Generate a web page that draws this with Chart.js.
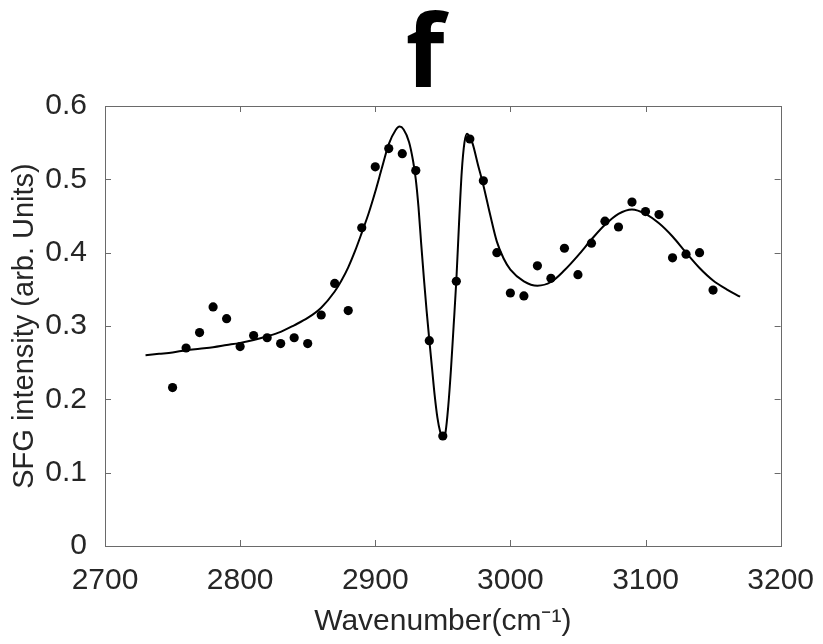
<!DOCTYPE html>
<html>
<head>
<meta charset="utf-8">
<script src="https://cdn.jsdelivr.net/npm/chart.js@4/dist/chart.umd.min.js"></script>
<style>
  html, body { margin: 0; padding: 0; background: #fff; }
  #wrap { width: 823px; height: 644px; }
</style>
</head>
<body>
<div id="wrap"><canvas id="chart-f"></canvas></div>
<script>
// measured SFG points
var wavenumber = [2750, 2760, 2770, 2780, 2790, 2800, 2810, 2820, 2830, 2840, 2850,
  2860, 2870, 2880, 2890, 2900, 2910, 2920, 2930, 2940, 2950, 2960,
  2970, 2980, 2990, 3000, 3010, 3020, 3030, 3040, 3050, 3060, 3070,
  3080, 3090, 3100, 3110, 3120, 3130, 3140, 3150];
var intensity = [0.216, 0.270, 0.291, 0.326, 0.310, 0.272, 0.287, 0.284, 0.276, 0.284, 0.276,
  0.315, 0.358, 0.321, 0.434, 0.517, 0.542, 0.535, 0.512, 0.280, 0.150, 0.361,
  0.555, 0.498, 0.400, 0.345, 0.341, 0.382, 0.365, 0.406, 0.370, 0.413, 0.443,
  0.435, 0.469, 0.456, 0.452, 0.393, 0.398, 0.400, 0.349];

// fitted curve
var fitX = [2730, 2740, 2750, 2760, 2770, 2780, 2790, 2800, 2810, 2820, 2830, 2840, 2850,
  2860, 2870, 2875, 2880, 2885, 2890, 2895, 2900, 2905, 2910, 2915, 2918, 2921,
  2925, 2928, 2930, 2932, 2934, 2936, 2938, 2940, 2942, 2944, 2946, 2948, 2950,
  2952, 2954, 2956, 2958, 2960, 2962, 2964, 2966, 2968, 2970, 2972, 2976, 2980,
  2985, 2990, 2995, 3000, 3010, 3020, 3030, 3040, 3050, 3060, 3070, 3080, 3090,
  3100, 3110, 3120, 3130, 3140, 3150, 3160, 3170];
var fitY = [0.260, 0.262, 0.264, 0.267, 0.269, 0.271, 0.274, 0.277, 0.281, 0.286, 0.292, 0.301, 0.311,
  0.325, 0.347, 0.362, 0.380, 0.402, 0.427, 0.453, 0.483, 0.516, 0.548, 0.567, 0.572, 0.568,
  0.551, 0.525, 0.500, 0.462, 0.412, 0.365, 0.321, 0.281, 0.243, 0.205, 0.175, 0.156, 0.147,
  0.155, 0.190, 0.240, 0.300, 0.362, 0.440, 0.510, 0.550, 0.562, 0.557, 0.549, 0.520, 0.492,
  0.452, 0.415, 0.392, 0.377, 0.361, 0.355, 0.360, 0.376, 0.396, 0.418, 0.438, 0.453, 0.459,
  0.453, 0.440, 0.422, 0.400, 0.379, 0.362, 0.350, 0.340];

// axis range and step: [min, max, step]
var xTicks = [2700, 3200, 100];
var yTicks = [0, 0.6, 0.1];

function pairs(xs, ys) {
  return xs.map(function (x, i) { return { x: x, y: ys[i] }; });
}

// MATLAB style box with inward ticks
var boxFrame = {
  id: 'boxFrame',
  afterDraw: function (chart) {
    var ctx = chart.ctx, a = chart.chartArea;
    var sx = chart.scales.x, sy = chart.scales.y;
    ctx.save();
    ctx.strokeStyle = '#6a6a6a';
    ctx.lineWidth = 1;
    ctx.strokeRect(Math.round(a.left) + 0.5, Math.round(a.top) + 0.5,
      Math.round(a.right - a.left), Math.round(a.bottom - a.top));
    ctx.beginPath();
    sx.ticks.forEach(function (t) {
      var p = Math.round(sx.getPixelForValue(t.value)) + 0.5;
      ctx.moveTo(p, a.bottom); ctx.lineTo(p, a.bottom - 6);
      ctx.moveTo(p, a.top); ctx.lineTo(p, a.top + 6);
    });
    sy.ticks.forEach(function (t) {
      var p = Math.round(sy.getPixelForValue(t.value)) + 0.5;
      ctx.moveTo(a.left, p); ctx.lineTo(a.left + 6, p);
      ctx.moveTo(a.right, p); ctx.lineTo(a.right - 6, p);
    });
    ctx.stroke();
    ctx.restore();
  }
};

var sans = '"Liberation Sans", Arial, sans-serif';
var tickFont = { family: sans, size: 30 };

new Chart(document.getElementById('chart-f'), {
  type: 'scatter',
  data: {
    datasets: [
      {
        label: 'fit',
        data: pairs(fitX, fitY),
        showLine: true,
        borderColor: '#000',
        borderWidth: 2,
        pointRadius: 0,
        cubicInterpolationMode: 'monotone'
      },
      {
        label: 'data',
        data: pairs(wavenumber, intensity),
        showLine: false,
        backgroundColor: '#000',
        borderColor: '#000',
        pointRadius: 4.6,
        pointBorderWidth: 0
      }
    ]
  },
  options: {
    responsive: true,
    maintainAspectRatio: false,
    animation: false,
    layout: { padding: { left: 27, right: 0, top: 0, bottom: 4 } },
    plugins: {
      legend: { display: false },
      tooltip: { enabled: false },
      title: {
        display: true,
        text: 'f',
        color: '#000',
        font: { family: '"Noto Sans", sans-serif', size: 100, weight: 'bold', lineHeight: 0.94 },
        padding: { top: 12, bottom: 0 }
      }
    },
    scales: {
      x: {
        type: 'linear',
        min: xTicks[0],
        max: xTicks[1],
        afterFit: function (s) { s.height = 94; },
        ticks: {
          stepSize: xTicks[2], color: '#262626', font: tickFont, padding: 9, maxRotation: 0,
          callback: function (v) { return String(v); }
        },
        grid: { display: false },
        border: { display: false },
        title: {
          display: true,
          text: 'Wavenumber(cm\u207B\u00B9)',
          color: '#262626',
          font: { family: sans, size: 30 },
          padding: { top: 0, bottom: 0 }
        }
      },
      y: {
        min: yTicks[0],
        max: yTicks[1],
        afterFit: function (s) { s.width = 78; },
        ticks: {
          stepSize: yTicks[2], color: '#262626', font: tickFont, padding: 10,
          callback: function (v) { return String(Math.round(v * 10) / 10); }
        },
        grid: { display: false },
        border: { display: false },
        title: {
          display: true,
          text: 'SFG intensity (arb. Units)',
          color: '#262626',
          font: { family: sans, size: 29 },
          padding: { top: -19, bottom: 0 }
        }
      },
      // empty right axis, only keeps the plot box clear of the right edge
      yRight: {
        position: 'right',
        display: true,
        afterFit: function (s) { s.width = 41; },
        ticks: { display: false },
        grid: { display: false },
        border: { display: false }
      }
    }
  },
  plugins: [boxFrame]
});
</script>
</body>
</html>
